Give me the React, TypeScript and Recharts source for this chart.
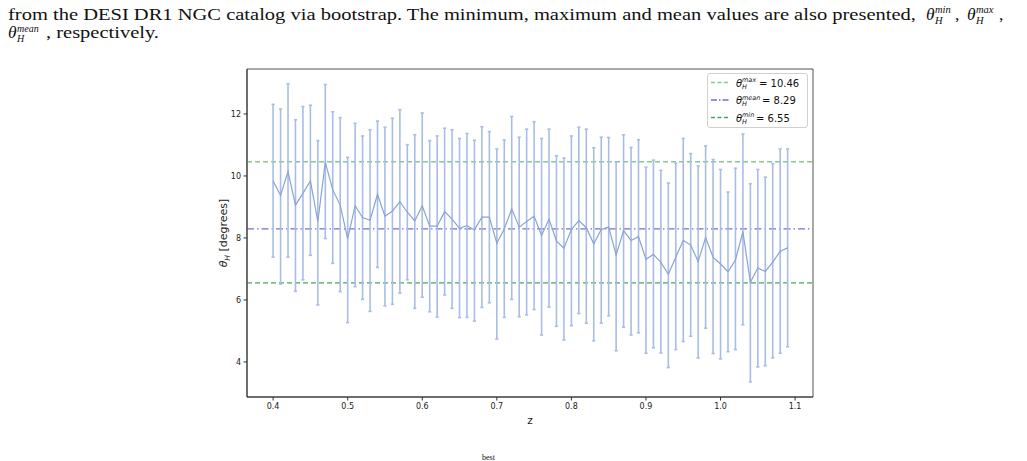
import React from 'react';
import { LineChart, Line, XAxis, YAxis, ErrorBar, ReferenceLine, ReferenceArea } from 'recharts';

const Z = [0.40, 0.41, 0.42, 0.43, 0.44, 0.45, 0.46, 0.47, 0.48, 0.49,
  0.50, 0.51, 0.52, 0.53, 0.54, 0.55, 0.56, 0.57, 0.58, 0.59,
  0.60, 0.61, 0.62, 0.63, 0.64, 0.65, 0.66, 0.67, 0.68, 0.69,
  0.70, 0.71, 0.72, 0.73, 0.74, 0.75, 0.76, 0.77, 0.78, 0.79,
  0.80, 0.81, 0.82, 0.83, 0.84, 0.85, 0.86, 0.87, 0.88, 0.89,
  0.90, 0.91, 0.92, 0.93, 0.94, 0.95, 0.96, 0.97, 0.98, 0.99,
  1.00, 1.01, 1.02, 1.03, 1.04, 1.05, 1.06, 1.07, 1.08, 1.09];

const THETA_MEAN_Z = [9.84, 9.37, 10.14, 9.06, 9.44, 9.84, 8.53, 10.44, 9.55, 9.06,
  7.97, 9.04, 8.66, 8.57, 9.41, 8.70, 8.87, 9.17, 8.83, 8.55,
  9.04, 8.38, 8.38, 8.85, 8.61, 8.31, 8.40, 8.26, 8.67, 8.67,
  7.83, 8.29, 8.94, 8.35, 8.53, 8.70, 8.08, 8.61, 7.90, 7.67,
  8.27, 8.56, 8.33, 7.81, 8.27, 8.35, 7.45, 8.24, 7.92, 8.04,
  7.31, 7.47, 7.21, 6.83, 7.38, 7.92, 7.77, 7.24, 8.01, 7.38,
  7.16, 6.91, 7.29, 8.20, 6.57, 7.03, 6.92, 7.22, 7.57, 7.68];

const LOWER = [7.38, 6.51, 7.38, 6.28, 6.65, 7.44, 5.84, 7.98, 7.18, 6.27,
  5.27, 6.43, 6.02, 5.63, 7.05, 5.81, 5.86, 6.22, 6.65, 5.73,
  6.09, 5.62, 5.45, 6.16, 5.73, 5.43, 5.44, 5.32, 5.76, 5.91,
  4.74, 5.44, 6.02, 5.46, 5.52, 5.69, 4.87, 5.77, 5.15, 4.71,
  5.17, 5.56, 5.25, 4.68, 5.25, 5.49, 4.36, 5.12, 4.87, 4.94,
  4.28, 4.46, 4.29, 3.82, 4.40, 4.66, 4.83, 4.13, 5.09, 4.27,
  4.10, 4.33, 4.40, 5.20, 3.36, 3.84, 3.88, 4.13, 4.28, 4.49];

const UPPER = [12.31, 12.16, 12.97, 11.81, 12.24, 12.28, 11.14, 12.95, 12.07, 11.88,
  10.60, 11.70, 11.29, 11.49, 11.77, 11.57, 11.86, 12.14, 11.01, 11.33,
  12.03, 11.14, 11.29, 11.54, 11.49, 11.21, 11.37, 11.15, 11.59, 11.43,
  10.87, 11.16, 11.92, 11.25, 11.51, 11.75, 11.21, 11.51, 10.65, 10.58,
  11.29, 11.57, 11.51, 10.91, 11.25, 11.24, 10.45, 11.33, 10.92, 11.17,
  10.28, 10.51, 10.18, 9.77, 10.41, 11.21, 10.72, 10.32, 10.97, 10.53,
  10.21, 9.48, 10.25, 11.35, 9.75, 10.21, 9.96, 10.40, 10.87, 10.87];

const X_TICKS = [0.4, 0.5, 0.6, 0.7, 0.8, 0.9, 1.0, 1.1];
const Y_TICKS = [4, 6, 8, 10, 12];
const THETA_MAX = 10.46;
const THETA_MEAN = 8.29;
const THETA_MIN = 6.55;

const X_DOMAIN: [number, number] = [0.365, 1.124];
const Y_DOMAIN: [number, number] = [2.87, 13.45];

const data = Z.map((z, i) => ({
  z,
  theta: THETA_MEAN_Z[i],
  err: [THETA_MEAN_Z[i] - LOWER[i], UPPER[i] - THETA_MEAN_Z[i]],
}));

const MAX_COLOR = '#86c795';
const MEAN_COLOR = '#7b6cc6';
const MIN_COLOR = '#4ea35c';
const SERIES_COLOR = '#8aa3d6';
const BAR_COLOR = '#a9bde4';

const tickStyle = { fontFamily: 'DejaVu Sans', fontSize: 8, fill: '#222' };

const serif = '"Liberation Serif", "DejaVu Serif", serif';

function Caption() {
  return (
    <svg width={1027} height={461} style={{ position: 'absolute', left: 0, top: 0 }}>
      <g fontFamily={serif} fontSize={17.5} fill="#111">
        <text x={8} y={20} textLength={908} lengthAdjust="spacingAndGlyphs">
          from the DESI DR1 NGC catalog via bootstrap. The minimum, maximum and mean values are also presented,
        </text>
        <text x={926} y={20} fontStyle="italic">θ</text>
        <text x={935} y={13} fontStyle="italic" fontSize={10.5}>min</text>
        <text x={935} y={24} fontStyle="italic" fontSize={10.5}>H</text>
        <text x={955} y={20}>,</text>
        <text x={967} y={20} fontStyle="italic">θ</text>
        <text x={976} y={13} fontStyle="italic" fontSize={10.5}>max</text>
        <text x={976} y={24} fontStyle="italic" fontSize={10.5}>H</text>
        <text x={999} y={20}>,</text>
        <text x={8} y={38} fontStyle="italic">θ</text>
        <text x={17} y={32} fontStyle="italic" fontSize={10}>mean</text>
        <text x={17} y={42} fontStyle="italic" fontSize={10}>H</text>
        <text x={46} y={38} textLength={113} lengthAdjust="spacingAndGlyphs">, respectively.</text>
      </g>
      <text x={482} y={460} fontFamily={serif} fontSize={8} fill="#111">best</text>
    </svg>
  );
}

function LegendBox() {
  const rows = [
    { sup: 'max', val: '= 10.46', color: MAX_COLOR, dash: '4 2.5', supW: 14 },
    { sup: 'mean', val: '= 8.29', color: MEAN_COLOR, dash: '6 2 1.5 2', supW: 17 },
    { sup: 'min', val: '= 6.55', color: MIN_COLOR, dash: '4 2.5', supW: 11 },
  ];
  return (
    <svg width={102} height={56} style={{ position: 'absolute', left: 707, top: 73 }}>
      <rect x={0.5} y={0.5} width={100} height={54} rx={2.5} fill="rgba(255,255,255,0.85)" stroke="#d0d0d0" />
      {rows.map((r, i) => {
        const cy = 9.5 + i * 17.5;
        return (
          <g key={i}>
            <line x1={4} x2={23} y1={cy} y2={cy} stroke={r.color} strokeWidth={1.4} strokeDasharray={r.dash} />
            <g fontFamily="DejaVu Sans" fill="#111">
              <text x={29} y={cy + 4} fontSize={10} fontStyle="italic">θ</text>
              <text x={35} y={cy - 0.5} fontSize={6.5} fontStyle="italic">{r.sup}</text>
              <text x={35} y={cy + 6} fontSize={6.5} fontStyle="italic">H</text>
              <text x={35 + r.supW + 3} y={cy + 4} fontSize={10}>{r.val}</text>
            </g>
          </g>
        );
      })}
    </svg>
  );
}

export default function App() {
  return (
    <div style={{ position: 'absolute', left: 0, top: 0, width: 1027, height: 461, background: '#fff' }}>
      <Caption />
      <div style={{ position: 'absolute', left: 0, top: 0 }}>
        <LineChart
          width={1027}
          height={461}
          data={data}
          margin={{ top: 69, right: 214, bottom: 34, left: 217 }}
        >
          <XAxis
            dataKey="z"
            type="number"
            domain={X_DOMAIN}
            ticks={X_TICKS}
            allowDataOverflow
            height={30}
            tickSize={3.5}
            tickMargin={2.5}
            tick={tickStyle}
            tickFormatter={(v: number) => v.toFixed(1)}
            axisLine={{ stroke: '#333' }}
            tickLine={{ stroke: '#333' }}
            label={{
              content: () => (
                <text x={530} y={424} textAnchor="middle" fontFamily="DejaVu Sans" fontSize={10.5} fill="#222">z</text>
              ),
            }}
          />
          <YAxis
            type="number"
            domain={Y_DOMAIN}
            ticks={Y_TICKS}
            allowDataOverflow
            width={30}
            tickSize={3.5}
            tickMargin={2.5}
            tick={tickStyle}
            axisLine={{ stroke: '#333' }}
            tickLine={{ stroke: '#333' }}
            label={{
              content: () => (
                <text transform="translate(227,233) rotate(-90)" textAnchor="middle" fontFamily="DejaVu Sans" fontSize={11} fill="#222">
                  <tspan fontStyle="italic">θ</tspan>
                  <tspan fontSize={7.5} fontStyle="italic" dy={2.5}>H</tspan>
                  <tspan dy={-2.5}> [degrees]</tspan>
                </text>
              ),
            }}
          />
          <ReferenceArea
            x1={X_DOMAIN[0]}
            x2={X_DOMAIN[1]}
            y1={Y_DOMAIN[0]}
            y2={Y_DOMAIN[1]}
            fill="none"
            stroke="#555"
            strokeWidth={1}
            ifOverflow="visible"
          />
          <ReferenceLine y={THETA_MAX} stroke={MAX_COLOR} strokeWidth={1.4} strokeDasharray="5 3" />
          <ReferenceLine y={THETA_MEAN} stroke={MEAN_COLOR} strokeWidth={1.2} strokeDasharray="7 3 1.5 3" />
          <ReferenceLine y={THETA_MIN} stroke={MIN_COLOR} strokeWidth={1.2} strokeDasharray="5 3" />
          <Line
            type="linear"
            dataKey="theta"
            stroke={SERIES_COLOR}
            strokeWidth={1.2}
            dot={false}
            isAnimationActive={false}
          >
            <ErrorBar dataKey="err" direction="y" width={1.6} stroke={BAR_COLOR} strokeWidth={1.6} isAnimationActive={false} />
          </Line>
        </LineChart>
      </div>
      <LegendBox />
    </div>
  );
}
